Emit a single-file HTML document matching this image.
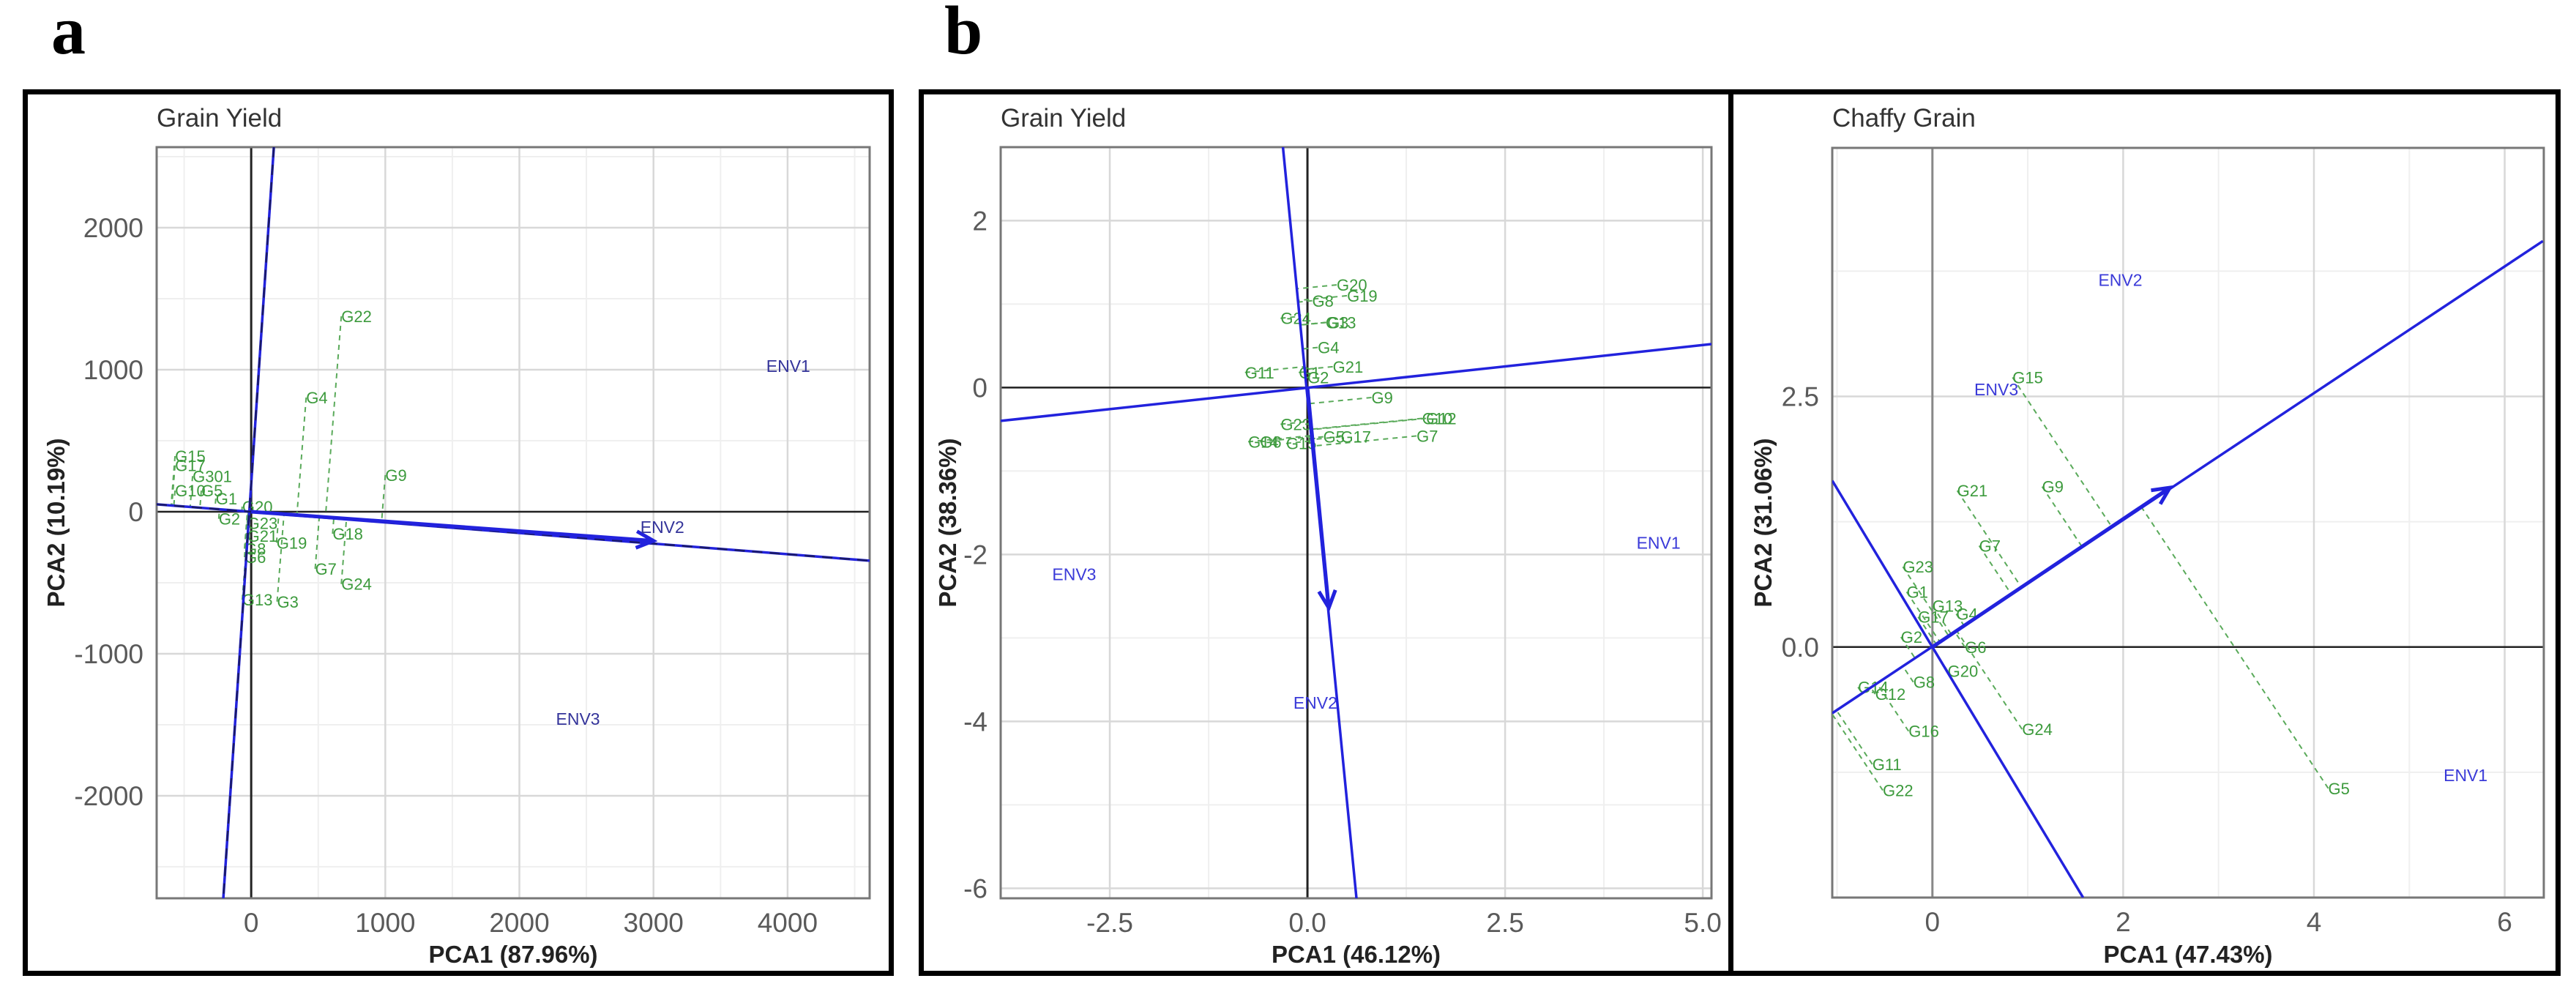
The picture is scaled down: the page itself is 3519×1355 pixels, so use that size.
<!DOCTYPE html>
<html><head><meta charset="utf-8"><style>
html,body{margin:0;padding:0;background:#fff;}
svg{display:block;font-family:"Liberation Sans",sans-serif;}
</style></head><body>
<svg id="fig" width="3519" height="1355" viewBox="0 0 3519 1355" xmlns="http://www.w3.org/2000/svg">
<rect x="0" y="0" width="3519" height="1355" fill="#fff"/>
<text x="70" y="73" font-family="Liberation Serif, serif" font-weight="bold" font-size="94">a</text>
<text x="1290" y="73" font-family="Liberation Serif, serif" font-weight="bold" font-size="94">b</text>
<rect x="34.5" y="125.5" width="1183" height="1204" fill="none" stroke="#000" stroke-width="7"/>
<rect x="1258.5" y="125.5" width="2236" height="1204" fill="none" stroke="#000" stroke-width="7"/>
<line x1="2364.5" y1="125" x2="2364.5" y2="1333" stroke="#000" stroke-width="7"/>
<g id="chartA"></g>
<g id="chartB1"></g>
<g id="chartB2"></g>
</svg>
<script>
// ---- Chart A: Grain Yield ----
const aXTicks = [0, 1000, 2000, 3000, 4000];
const aYTicks = [-2000, -1000, 0, 1000, 2000];
const aXMinor = [-500, 500, 1500, 2500, 3500, 4500];
const aYMinor = [-2500, -1500, -500, 500, 1500, 2500];
const aEnvNames = ["ENV1", "ENV2", "ENV3"];
const aEnvX = [4005, 3066, 2437];
const aEnvY = [1025, -108, -1459];
const aGenNames = ["G22","G4","G9","G18","G7","G24","G3","G19","G13","G20","G15","G17","G301","G10","G5","G1","G2","G23","G21","G8","G6"];
const aGenX = [672, 410, 1000, 607, 477, 672, 193, 189, -67, -67, -568, -568, -437, -568, -372, -264, -242, -30, -30, -50, -50];
const aGenY = [1376, 804, 258, -155, -402, -509, -633, -218, -620, 36, 392, 326, 251, 149, 149, 93, -50, -80, -170, -260, -320];
const aLine1X = [169, -208]; const aLine1Y = [2567, -2722];
const aLine2X = [-705, 4612]; const aLine2Y = [52, -345];
const aArrowX = [0, 3000]; const aArrowY = [0, -205];

// ---- Chart B1: Grain Yield ----
const b1XTicks = [-2.5, 0, 2.5, 5];
const b1XTickLabels = ["-2.5", "0.0", "2.5", "5.0"];
const b1YTicks = [-6, -4, -2, 0, 2];
const b1XMinor = [-1.25, 1.25, 3.75];
const b1YMinor = [-5, -3, -1, 1];
const b1EnvNames = ["ENV1", "ENV2", "ENV3"];
const b1EnvX = [4.44, 0.1, -2.95];
const b1EnvY = [-1.86, -3.78, -2.24];
const b1GenNames = ["G20","G19","G8","G24","G13","G4","G21","G11","G1","G9","G10","G7","G17","G5","G23","G14","G15","G12","G3","G6","G2"];
const b1GenX = [0.37, 0.5, 0.06, -0.34, 0.23, 0.13, 0.32, -0.79, -0.11, 0.81, 1.45, 1.38, 0.42, 0.2, -0.34, -0.75, -0.27, 1.5, 0.25, -0.6, 0.0];
const b1GenY = [1.23, 1.1, 1.04, 0.83, 0.78, 0.48, 0.25, 0.18, 0.18, -0.12, -0.37, -0.58, -0.59, -0.59, -0.44, -0.65, -0.67, -0.37, 0.78, -0.65, 0.12];
const b1Line1X = [-0.31, 0.62]; const b1Line1Y = [2.88, -6.12];
const b1Line2X = [-3.88, 5.11]; const b1Line2Y = [-0.40, 0.52];
const b1ArrowX = [0, 0.27]; const b1ArrowY = [0, -2.64];

// ---- Chart B2: Chaffy Grain ----
const b2XTicks = [0, 2, 4, 6];
const b2XTickLabels = ["0", "2", "4", "6"];
const b2YTicks = [0, 2.5];
const b2YTickLabels = ["0.0", "2.5"];
const b2XMinor = [-1, 1, 3, 5];
const b2YMinor = [-1.25, 1.25, 3.75];
const b2EnvNames = ["ENV1", "ENV2", "ENV3"];
const b2EnvX = [5.59, 1.97, 0.67];
const b2EnvY = [-1.28, 3.66, 2.57];
const b2GenNames = ["G15","G9","G21","G7","G23","G1","G13","G4","G17","G2","G6","G20","G8","G14","G12","G16","G24","G11","G22","G5"];
const b2GenX = [0.84, 1.15, 0.26, 0.49, -0.31, -0.27, 0.0, 0.25, -0.15, -0.33, 0.34, 0.16, -0.2, -0.78, -0.6, -0.25, 0.94, -0.63, -0.52, 4.15];
const b2GenY = [2.69, 1.6, 1.56, 1.01, 0.8, 0.55, 0.41, 0.33, 0.3, 0.1, 0.0, -0.24, -0.35, -0.4, -0.47, -0.84, -0.82, -1.17, -1.43, -1.41];
const b2Line1X = [-1.05, 6.4]; const b2Line1Y = [-0.66, 4.05];
const b2Line2X = [-1.05, 1.58]; const b2Line2Y = [1.66, -2.5];
const b2ArrowX = [0, 2.49]; const b2ArrowY = [0, 1.59];

const NS = "http://www.w3.org/2000/svg";
function mk(parent, tag, attrs, text) {
  const e = document.createElementNS(NS, tag);
  for (const k in attrs) e.setAttribute(k, attrs[k]);
  if (text !== undefined) e.textContent = text;
  parent.appendChild(e);
  return e;
}
function makeScale(d0, d1, r0, r1) { return v => r0 + (v - d0) * (r1 - r0) / (d1 - d0); }

function drawChart(g, c) {
  const sx = makeScale(c.xMin, c.xMax, c.left, c.right);
  const sy = makeScale(c.yMin, c.yMax, c.bottom, c.top);
  const clipId = c.id + "-clip";
  const defs = mk(g, "defs", {});
  const cp = mk(defs, "clipPath", {id: clipId});
  mk(cp, "rect", {x: c.left, y: c.top, width: c.right - c.left, height: c.bottom - c.top});
  const t = mk(g, "text", {x: c.left, y: 173, "font-size": 35, fill: "#333"}, c.title);
  
  
  const grid = mk(g, "g", {"clip-path": "url(#" + clipId + ")"});
  
  
  c.xMinor.forEach(v => {
    const l = mk(grid, "line", {x1: sx(v), x2: sx(v), y1: c.top, y2: c.bottom, stroke: "#efefef", "stroke-width": 2});
    
    
  });
  c.yMinor.forEach(v => {
    const l = mk(grid, "line", {x1: c.left, x2: c.right, y1: sy(v), y2: sy(v), stroke: "#efefef", "stroke-width": 2});
    
    
  });
  c.xTicks.forEach((v, i) => {
    const l = mk(grid, "line", {x1: sx(v), x2: sx(v), y1: c.top, y2: c.bottom, stroke: "#d8d8d8", "stroke-width": 2.5});
    
    
    const tx = mk(g, "text", {x: sx(v), y: c.bottom + 46, "font-size": 37, fill: "#5a5a5a", "text-anchor": "middle"}, c.xLabels ? c.xLabels[i] : String(v));
    
    
  });
  c.yTicks.forEach((v, i) => {
    const l = mk(grid, "line", {x1: c.left, x2: c.right, y1: sy(v), y2: sy(v), stroke: "#d8d8d8", "stroke-width": 2.5});
    
    
    const ty = mk(g, "text", {x: c.left - 18, y: sy(v) + 13, "font-size": 37, fill: "#5a5a5a", "text-anchor": "end"}, c.yLabels ? c.yLabels[i] : String(v));
    
    
  });
  const zx = mk(grid, "line", {x1: sx(0), x2: sx(0), y1: c.top, y2: c.bottom, stroke: c.zeroXColor, "stroke-width": 3});
  
  
  const zy = mk(grid, "line", {x1: c.left, x2: c.right, y1: sy(0), y2: sy(0), stroke: "#222", "stroke-width": 2.5});
  
  
  const frame = mk(g, "rect", {x: c.left, y: c.top, width: c.right - c.left, height: c.bottom - c.top, fill: "none", stroke: "#777", "stroke-width": 3});
  
  

  const marks = mk(g, "g", {"clip-path": "url(#" + clipId + ")"});
  const px1 = sx(c.projX[0]), py1 = sy(c.projY[0]), px2 = sx(c.projX[1]), py2 = sy(c.projY[1]);
  const dx = px2 - px1, dy = py2 - py1, L2 = dx * dx + dy * dy;
  c.genNames.forEach((n, i) => {
    const gx = sx(c.genX[i]), gy = sy(c.genY[i]);
    const tt = ((gx - px1) * dx + (gy - py1) * dy) / L2;
    const qx = px1 + tt * dx, qy = py1 + tt * dy;
    const d = mk(marks, "line", {x1: gx, y1: gy, x2: qx, y2: qy, stroke: "#5aaa5a", "stroke-width": 2, "stroke-dasharray": "7,6"});
    
    
    const lt = mk(marks, "text", {x: gx, y: gy + 8, "font-size": 22, fill: "#3c9a3c"}, n);
    
    
  });
  [[c.l1X, c.l1Y], [c.l2X, c.l2Y]].forEach((ln, k) => {
    const l = mk(marks, "line", {x1: sx(ln[0][0]), y1: sy(ln[1][0]), x2: sx(ln[0][1]), y2: sy(ln[1][1]), stroke: "#2222dd", "stroke-width": 3.5});
    
    
    if (c.dashedOverlay) {
      const o = mk(marks, "line", {x1: sx(ln[0][0]), y1: sy(ln[1][0]), x2: sx(ln[0][1]), y2: sy(ln[1][1]), stroke: "#1a1a66", "stroke-width": 2.5, "stroke-dasharray": "14,10"});
      
      
    }
  });
  const ax0 = sx(c.arX[0]), ay0 = sy(c.arY[0]), ax1 = sx(c.arX[1]), ay1 = sy(c.arY[1]);
  const ar = mk(marks, "line", {x1: ax0, y1: ay0, x2: ax1, y2: ay1, stroke: "#2222dd", "stroke-width": 5});
  
  
  const ang = Math.atan2(ay1 - ay0, ax1 - ax0), h = 26;
  const head = mk(marks, "polyline", {points: (ax1 - h * Math.cos(ang - 0.45)) + "," + (ay1 - h * Math.sin(ang - 0.45)) + " " + ax1 + "," + ay1 + " " + (ax1 - h * Math.cos(ang + 0.45)) + "," + (ay1 - h * Math.sin(ang + 0.45)), fill: "none", stroke: "#2222dd", "stroke-width": 5});
  
  
  c.envNames.forEach((n, i) => {
    const e = mk(marks, "text", {x: sx(c.envX[i]), y: sy(c.envY[i]) + 8, "font-size": 23, fill: c.envColor, "text-anchor": "middle"}, n);
    
    
  });
  const xt = mk(g, "text", {x: (c.left + c.right) / 2, y: 1315, "font-size": 33, "font-weight": "bold", fill: "#222", "text-anchor": "middle"}, c.xTitle);
  
  
  const yc = (c.top + c.bottom) / 2;
  const yt = mk(g, "text", {x: c.yTitleX, y: yc, "font-size": 33, "font-weight": "bold", fill: "#222", "text-anchor": "middle", transform: "rotate(-90 " + c.yTitleX + " " + yc + ")"}, c.yTitle);
  
  
}

drawChart(document.getElementById("chartA"), {
  id: "a", title: "Grain Yield", left: 214, right: 1188, top: 201, bottom: 1227,
  xMin: -705, xMax: 4612, yMin: -2722, yMax: 2567,
  xTicks: aXTicks, yTicks: aYTicks, xMinor: aXMinor, yMinor: aYMinor, zeroXColor: "#222",
  genNames: aGenNames, genX: aGenX, genY: aGenY, projX: aLine2X, projY: aLine2Y,
  l1X: aLine1X, l1Y: aLine1Y, l2X: aLine2X, l2Y: aLine2Y, arX: aArrowX, arY: aArrowY, dashedOverlay: true,
  envNames: aEnvNames, envX: aEnvX, envY: aEnvY, envColor: "#34349a",
  xTitle: "PCA1 (87.96%)", yTitle: "PCA2 (10.19%)", yTitleX: 88
});
drawChart(document.getElementById("chartB1"), {
  id: "b1", title: "Grain Yield", left: 1367, right: 2338, top: 201, bottom: 1227,
  xMin: -3.88, xMax: 5.11, yMin: -6.12, yMax: 2.88,
  xTicks: b1XTicks, xLabels: b1XTickLabels, yTicks: b1YTicks, xMinor: b1XMinor, yMinor: b1YMinor, zeroXColor: "#222",
  genNames: b1GenNames, genX: b1GenX, genY: b1GenY, projX: b1Line1X, projY: b1Line1Y,
  l1X: b1Line1X, l1Y: b1Line1Y, l2X: b1Line2X, l2Y: b1Line2Y, arX: b1ArrowX, arY: b1ArrowY, dashedOverlay: false,
  envNames: b1EnvNames, envX: b1EnvX, envY: b1EnvY, envColor: "#3a3ad8",
  xTitle: "PCA1 (46.12%)", yTitle: "PCA2 (38.36%)", yTitleX: 1306
});
drawChart(document.getElementById("chartB2"), {
  id: "b2", title: "Chaffy Grain", left: 2503, right: 3475, top: 202, bottom: 1226,
  xMin: -1.05, xMax: 6.41, yMin: -2.5, yMax: 4.98,
  xTicks: b2XTicks, xLabels: b2XTickLabels, yTicks: b2YTicks, yLabels: b2YTickLabels, xMinor: b2XMinor, yMinor: b2YMinor, zeroXColor: "#888",
  genNames: b2GenNames, genX: b2GenX, genY: b2GenY, projX: b2Line1X, projY: b2Line1Y,
  l1X: b2Line1X, l1Y: b2Line1Y, l2X: b2Line2X, l2Y: b2Line2Y, arX: b2ArrowX, arY: b2ArrowY, dashedOverlay: false,
  envNames: b2EnvNames, envX: b2EnvX, envY: b2EnvY, envColor: "#3a3ad8",
  xTitle: "PCA1 (47.43%)", yTitle: "PCA2 (31.06%)", yTitleX: 2420
});
</script>
</body></html>
